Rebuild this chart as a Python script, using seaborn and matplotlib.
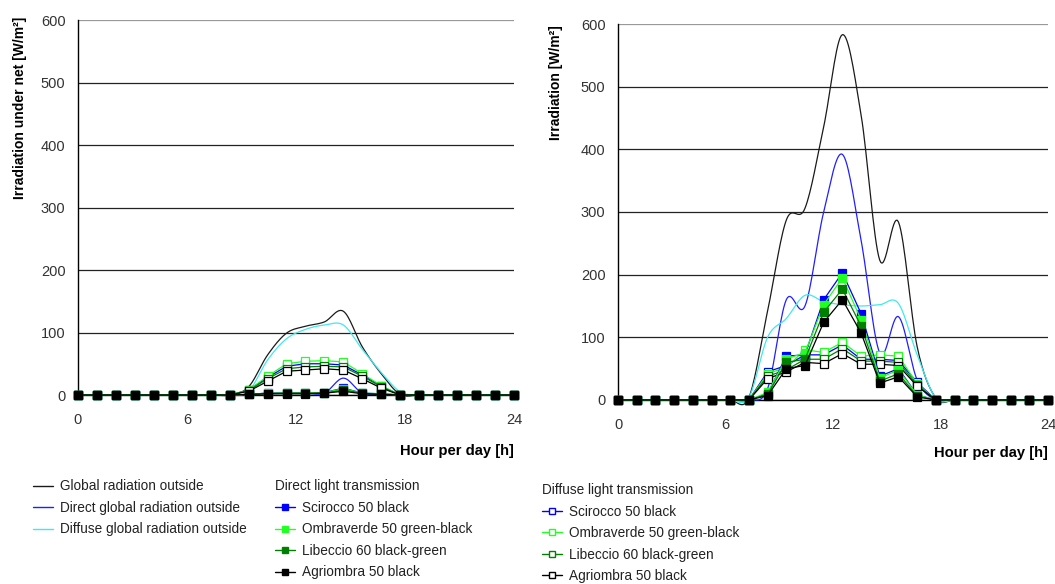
#!/usr/bin/env python3
"""Irradiation under shading nets vs. outside radiation, two panels."""

import matplotlib

matplotlib.use("Agg")
import matplotlib.pyplot as plt
import numpy as np
import seaborn as sns
from matplotlib.lines import Line2D

# hourly readings, index 0..23
HOURS = list(range(24))
HOUR_LABELS = ["0", "6", "12", "18", "24"]
Y_TICKS = [0, 100, 200, 300, 400, 500, 600]

OUTSIDE_NAMES = [
    "Global radiation outside",
    "Direct global radiation outside",
    "Diffuse global radiation outside",
]
NET_NAMES = [
    "Scirocco 50 black",
    "Ombraverde 50 green-black",
    "Libeccio 60 black-green",
    "Agriombra 50 black",
]

# left panel: irradiation under net
L_GLOBAL = [0, 0, 0, 0, 0, 0, 0, 0, 0, 13, 64, 99, 110, 117, 134, 77, 34, 1, 0, 0, 0, 0, 0, 0]
L_DIRECT = [0, 0, 0, 0, 0, 0, 0, 0, 0, 1, 3, 3, 3, 3, 27, 3, 2, 0, 0, 0, 0, 0, 0, 0]
L_DIFFUSE = [0, 0, 0, 0, 0, 0, 0, 0, 0, 6, 56, 90, 105, 112, 112, 73, 36, 5, 0, 0, 0, 0, 0, 0]

L_SCI_DIR = [0, 0, 0, 0, 0, 0, 0, 0, 0, 1, 3, 3, 3, 4, 11, 3, 2, 0, 0, 0, 0, 0, 0, 0]
L_OMB_DIR = [0, 0, 0, 0, 0, 0, 0, 0, 0, 1, 3, 3, 3, 4, 10, 3, 2, 0, 0, 0, 0, 0, 0, 0]
L_LIB_DIR = [0, 0, 0, 0, 0, 0, 0, 0, 0, 1, 2, 3, 3, 3, 8, 3, 1, 0, 0, 0, 0, 0, 0, 0]
L_AGR_DIR = [0, 0, 0, 0, 0, 0, 0, 0, 0, 1, 2, 2, 2, 3, 6, 2, 1, 0, 0, 0, 0, 0, 0, 0]

L_SCI_DIF = [0, 0, 0, 0, 0, 0, 0, 0, 0, 8, 28, 46, 50, 50, 48, 32, 14, 0, 0, 0, 0, 0, 0, 0]
L_OMB_DIF = [0, 0, 0, 0, 0, 0, 0, 0, 0, 8, 30, 50, 54, 55, 53, 34, 15, 0, 0, 0, 0, 0, 0, 0]
L_LIB_DIF = [0, 0, 0, 0, 0, 0, 0, 0, 0, 7, 26, 42, 45, 46, 45, 30, 13, 0, 0, 0, 0, 0, 0, 0]
L_AGR_DIF = [0, 0, 0, 0, 0, 0, 0, 0, 0, 6, 22, 38, 40, 42, 40, 26, 11, 0, 0, 0, 0, 0, 0, 0]

# right panel: irradiation
R_GLOBAL = [0, 0, 0, 0, 0, 0, 0, 4, 142, 287, 306, 436, 583, 455, 223, 284, 85, 3, 0, 0, 0, 0, 0, 0]
R_DIRECT = [0, 0, 0, 0, 0, 0, 0, 0, 18, 160, 150, 300, 392, 255, 75, 133, 32, 0, 0, 0, 0, 0, 0, 0]
R_DIFFUSE = [0, 0, 0, 0, 0, 0, 0, 4, 100, 130, 167, 157, 152, 150, 152, 154, 72, 3, 0, 0, 0, 0, 0, 0]

R_SCI_DIR = [0, 0, 0, 0, 0, 0, 0, 0, 10, 70, 72, 160, 203, 138, 38, 50, 8, 0, 0, 0, 0, 0, 0, 0]
R_OMB_DIR = [0, 0, 0, 0, 0, 0, 0, 0, 12, 66, 75, 152, 195, 128, 35, 48, 8, 0, 0, 0, 0, 0, 0, 0]
R_LIB_DIR = [0, 0, 0, 0, 0, 0, 0, 0, 9, 60, 65, 140, 177, 118, 30, 42, 6, 0, 0, 0, 0, 0, 0, 0]
R_AGR_DIR = [0, 0, 0, 0, 0, 0, 0, 0, 7, 50, 55, 124, 160, 107, 27, 37, 5, 0, 0, 0, 0, 0, 0, 0]

R_SCI_DIF = [0, 0, 0, 0, 0, 0, 0, 0, 45, 55, 72, 72, 88, 65, 65, 63, 28, 0, 0, 0, 0, 0, 0, 0]
R_OMB_DIF = [0, 0, 0, 0, 0, 0, 0, 0, 42, 52, 80, 76, 92, 70, 72, 70, 26, 0, 0, 0, 0, 0, 0, 0]
R_LIB_DIF = [0, 0, 0, 0, 0, 0, 0, 0, 38, 48, 65, 65, 82, 62, 62, 60, 24, 0, 0, 0, 0, 0, 0, 0]
R_AGR_DIF = [0, 0, 0, 0, 0, 0, 0, 0, 34, 45, 60, 58, 74, 57, 57, 55, 22, 0, 0, 0, 0, 0, 0, 0]

OUTSIDE_COLORS = ["#1a1a1a", "#2020ff", "#40e8f0"]
NET_COLORS = ["#0000ff", "#22ff22", "#008000", "#000000"]
TEXT_COLOR = "#222222"
TICK_SIZE = 10.5
LABEL_SIZE = 10
LEGEND_SIZE = 9.8


def excel_smooth(xs, ys, steps=16):
    """Catmull-Rom curve through the points, like Excel's smoothed line."""
    pts = np.column_stack([xs, ys]).astype(float)
    pts = np.vstack([pts[0], pts, pts[-1]])
    t = np.linspace(0, 1, steps, endpoint=False)[:, None]
    out = []
    for i in range(len(pts) - 3):
        p0, p1, p2, p3 = pts[i], pts[i + 1], pts[i + 2], pts[i + 3]
        out.append(
            0.5 * ((2 * p1) + (-p0 + p2) * t + (2 * p0 - 5 * p1 + 4 * p2 - p3) * t**2
                   + (-p0 + 3 * p1 - 3 * p2 + p3) * t**3)
        )
    out.append(pts[-2][None, :])
    out = np.vstack(out)
    return out[:, 0], out[:, 1]


def draw_panel(ax, outside, direct, diffuse, ylabel, label_xy, xlabel_y):
    for ys, color in zip(outside, OUTSIDE_COLORS):
        sx, sy = excel_smooth(HOURS, ys)
        sns.lineplot(x=sx, y=sy, color=color, linewidth=0.9, estimator=None,
                     sort=False, ax=ax, legend=False, clip_on=False, zorder=3)
    for ys, color in zip(diffuse, NET_COLORS):
        sns.lineplot(x=HOURS, y=ys, color=color, linewidth=0.9, marker="s",
                     markersize=5.5, markerfacecolor="white", markeredgecolor=color,
                     markeredgewidth=0.9, estimator=None, ax=ax, legend=False,
                     clip_on=False, zorder=4)
    for ys, color in zip(direct, NET_COLORS):
        sns.lineplot(x=HOURS, y=ys, color=color, linewidth=0.9, marker="s",
                     markersize=5.5, markerfacecolor=color, markeredgecolor=color,
                     markeredgewidth=0.9, estimator=None, ax=ax, legend=False,
                     clip_on=False, zorder=5)

    ax.set_xlim(0, 23)
    ax.set_ylim(0, 600)
    ax.set_xticks(np.linspace(0, 23, 5))
    ax.set_xticklabels(HOUR_LABELS)
    ax.set_xticks([0, 5, 10, 15, 20], minor=True)
    ax.tick_params(axis="x", which="major", length=0, pad=13, labelsize=TICK_SIZE,
                   labelcolor="#333333")
    ax.tick_params(axis="x", which="minor", length=4, width=0.9, color="black",
                   direction="out")
    ax.set_yticks(Y_TICKS)
    ax.tick_params(axis="y", length=4, width=0.9, color="black", direction="out",
                   pad=5, labelsize=TICK_SIZE, labelcolor="#333333")
    ax.yaxis.grid(True, color="#222222", linewidth=0.9)
    ax.xaxis.grid(False)
    ax.get_ygridlines()[-1].set_color("#999999")
    ax.set_axisbelow(True)

    sns.despine(ax=ax)
    for side in ("left", "bottom"):
        ax.spines[side].set_color("black")
        ax.spines[side].set_linewidth(1.0)

    ax.set_ylabel(ylabel, fontsize=LABEL_SIZE, fontweight="bold", color="black")
    ax.yaxis.set_label_coords(*label_xy)
    ax.set_xlabel("Hour per day [h]", fontsize=10.6, fontweight="bold",
                  color="black", loc="right")
    ax.xaxis.set_label_coords(1.0, xlabel_y)


def main() -> None:
    sns.set_theme(style="white")
    plt.rcParams["font.family"] = ["Liberation Sans", "DejaVu Sans"]

    fig = plt.figure(figsize=(10.55, 5.84), dpi=100)
    ax_l = fig.add_axes([0.0739, 0.3236, 0.4133, 0.6421])
    ax_r = fig.add_axes([0.5858, 0.3151, 0.4076, 0.6438])

    draw_panel(
        ax_l,
        [L_GLOBAL, L_DIRECT, L_DIFFUSE],
        [L_SCI_DIR, L_OMB_DIR, L_LIB_DIR, L_AGR_DIR],
        [L_SCI_DIF, L_OMB_DIF, L_LIB_DIF, L_AGR_DIF],
        "Irradiation under net [W/m²]",
        (-0.117, 0.765),
        -0.13,
    )
    draw_panel(
        ax_r,
        [R_GLOBAL, R_DIRECT, R_DIFFUSE],
        [R_SCI_DIR, R_OMB_DIR, R_LIB_DIR, R_AGR_DIR],
        [R_SCI_DIF, R_OMB_DIF, R_LIB_DIF, R_AGR_DIF],
        "Irradiation [W/m²]",
        (-0.128, 0.843),
        -0.122,
    )

    common = dict(loc="upper left", frameon=False, fontsize=LEGEND_SIZE,
                  handlelength=1.5, handletextpad=0.5, labelspacing=0.55,
                  borderpad=0, borderaxespad=0, numpoints=1, labelcolor=TEXT_COLOR)

    out_handles = [Line2D([], [], color=c, linewidth=1.0) for c in OUTSIDE_COLORS]
    fig.legend(out_handles, OUTSIDE_NAMES, bbox_to_anchor=(0.0313, 0.179), **common)

    dir_handles = [
        Line2D([], [], color=c, linewidth=1.0, marker="s", markersize=5,
               markerfacecolor=c, markeredgecolor=c)
        for c in NET_COLORS
    ]
    leg = fig.legend(dir_handles, NET_NAMES, bbox_to_anchor=(0.2607, 0.179),
                     title="Direct light transmission", title_fontsize=LEGEND_SIZE,
                     alignment="left", **common)
    leg.get_title().set_color(TEXT_COLOR)

    dif_handles = [
        Line2D([], [], color=c, linewidth=1.0, marker="s", markersize=5,
               markerfacecolor="white", markeredgecolor=c)
        for c in NET_COLORS
    ]
    leg = fig.legend(dif_handles, NET_NAMES, bbox_to_anchor=(0.5137, 0.1725),
                     title="Diffuse light transmission", title_fontsize=LEGEND_SIZE,
                     alignment="left", **common)
    leg.get_title().set_color(TEXT_COLOR)

    fig.savefig("out.png", dpi=100, facecolor="white")
    plt.close(fig)


if __name__ == "__main__":
    main()
